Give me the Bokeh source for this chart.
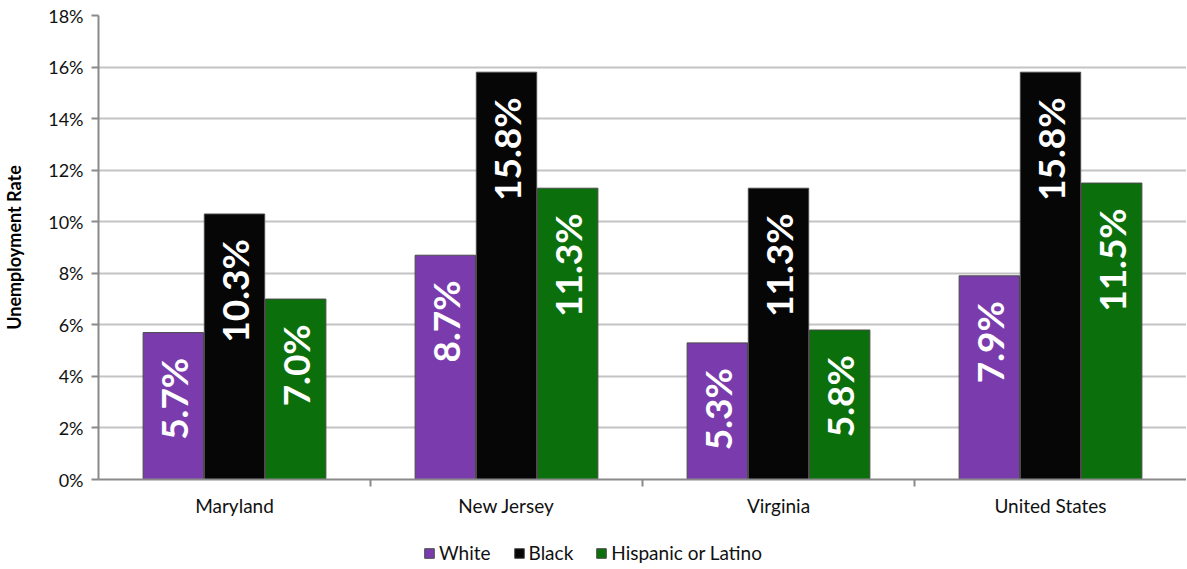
import math
from bokeh.plotting import figure
from bokeh.layouts import column
from bokeh.models import ColumnDataSource, FixedTicker, Legend, LegendItem, Range1d
from bokeh.core.properties import value
from bokeh.embed import file_html
from bokeh.resources import INLINE

categories = ["Maryland", "New Jersey", "Virginia", "United States"]
series = ["White", "Black", "Hispanic or Latino"]
white = [5.7, 8.7, 5.3, 7.9]
black = [10.3, 15.8, 11.3, 15.8]
hispanic = [7.0, 11.3, 5.8, 11.5]
y_ticks = [0, 2, 4, 6, 8, 10, 12, 14, 16, 18]

colors = ["#7a3cad", "#060606", "#0b700b"]
offsets = [-0.225, 0.0, 0.225]
bar_w = 0.222

p = figure(frame_width=1088, frame_height=464, output_backend="svg",
           toolbar_location=None,
           x_range=Range1d(0, 4), y_range=Range1d(0, 18),
           min_border_left=0, min_border_right=0, min_border_top=15, min_border_bottom=45)
p.outline_line_color = None
p.background_fill_color = "white"

for vals, col, off in zip([white, black, hispanic], colors, offsets):
    xs = [i + 0.5 + off for i in range(len(categories))]
    src = ColumnDataSource(dict(x=xs, top=vals,
                                ty=[v - 0.98 for v in vals],
                                label=[f"{v:.1f}%" for v in vals]))
    p.vbar(x="x", top="top", width=bar_w, source=src, fill_color=col,
           line_color="#4a4a4a", line_width=1)
    p.text(x="x", y="ty", text="label", source=src, angle=math.pi / 2,
           text_align="right", text_baseline="middle", text_color="white",
           text_font=value("Lato"), text_font_style="bold", text_font_size="37px")

# y axis
p.yaxis.ticker = FixedTicker(ticks=y_ticks)
p.yaxis.major_label_overrides = {t: f"{t}%" for t in y_ticks}
p.yaxis.axis_label = "Unemployment Rate"
p.yaxis.axis_label_text_font = "Lato"
p.yaxis.axis_label_text_font_style = "bold"
p.yaxis.axis_label_text_font_size = "18px"
p.yaxis.axis_label_text_color = "#000000"
p.yaxis.axis_label_standoff = 20
p.yaxis.major_label_text_font = "Lato"
p.yaxis.major_label_text_font_size = "18px"
p.yaxis.major_label_text_color = "#111111"
p.yaxis.major_label_standoff = 8
p.yaxis.major_tick_in = 0
p.yaxis.major_tick_out = 7
p.yaxis.minor_tick_line_color = None
p.yaxis.axis_line_color = "#8a8a8a"
p.yaxis.axis_line_width = 2
p.yaxis.major_tick_line_color = "#8a8a8a"
p.yaxis.major_tick_line_width = 2

# x axis
p.xaxis.ticker = FixedTicker(ticks=[i + 0.5 for i in range(len(categories))],
                             minor_ticks=[1, 2, 3])
p.xaxis.major_label_overrides = {i + 0.5: c for i, c in enumerate(categories)}
p.xaxis.major_label_text_font = "Lato"
p.xaxis.major_label_text_font_size = "19px"
p.xaxis.major_label_text_color = "#111111"
p.xaxis.major_label_standoff = 7
p.xaxis.major_tick_in = 0
p.xaxis.major_tick_out = 0
p.xaxis.minor_tick_in = 0
p.xaxis.minor_tick_out = 7
p.xaxis.minor_tick_line_color = "#8a8a8a"
p.xaxis.minor_tick_line_width = 2
p.xaxis.axis_line_color = "#8a8a8a"
p.xaxis.axis_line_width = 2

p.xgrid.grid_line_color = None
p.ygrid.grid_line_color = "#c4c4c4"
p.ygrid.grid_line_width = 2

# legend strip below the chart (dummy renderers sit outside the visible range)
lg = figure(width=1185, height=40, output_backend="svg", toolbar_location=None,
            x_axis_type=None, y_axis_type=None, x_range=Range1d(0, 1), y_range=Range1d(0, 1),
            min_border_left=0, min_border_right=0, min_border_top=0, min_border_bottom=0)
lg.outline_line_color = None
lg.xgrid.grid_line_color = None
lg.ygrid.grid_line_color = None
items = []
for name, col in zip(series, colors):
    r = lg.vbar(x=[-5], top=[-5], bottom=[-6], width=0.1, fill_color=col,
                line_color="#4a4a4a")
    items.append(LegendItem(label=name, renderers=[r]))
legend = Legend(items=items, orientation="horizontal", location=(325, 0),
                label_text_font="Lato", label_text_font_size="19px",
                label_text_color="#111111",
                glyph_width=12, glyph_height=12, spacing=22, label_standoff=4,
                border_line_color=None, background_fill_alpha=0,
                padding=0, margin=0)
lg.add_layout(legend, "center")

layout = column(p, lg, spacing=0)
open("out.html", "w").write(file_html(layout, INLINE))
